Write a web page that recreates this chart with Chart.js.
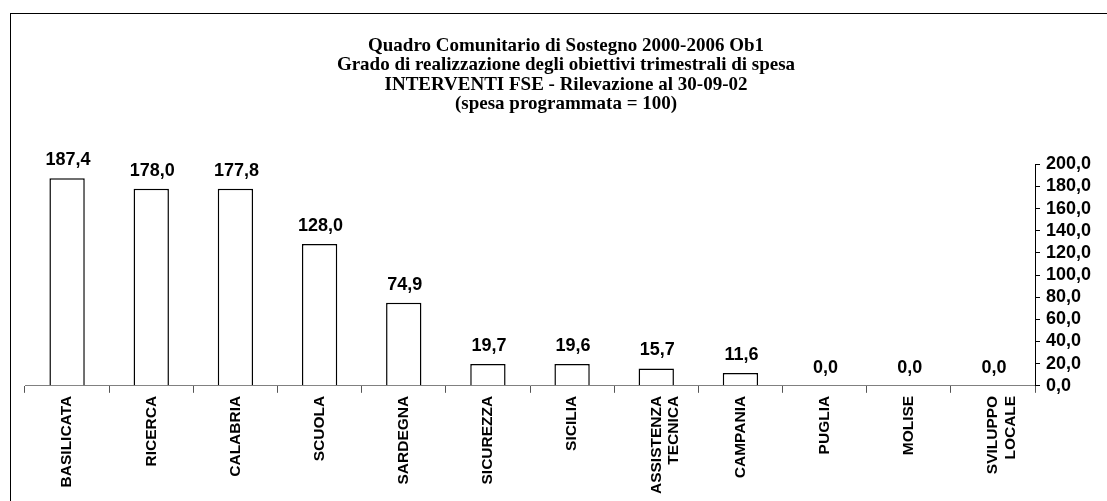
<!DOCTYPE html>
<html>
<head>
<meta charset="utf-8">
<script src="https://cdn.jsdelivr.net/npm/chart.js@4.4.1/dist/chart.umd.min.js"></script>
<style>
  html, body { margin: 0; padding: 0; background: #fff; }
  #wrap { position: relative; width: 1107px; height: 501px; overflow: hidden; }
  #frame { position: absolute; left: 10px; top: 13px; width: 1200px; height: 600px;
           border-left: 1px solid #000; border-top: 1px solid #000; }
  canvas { position: absolute; left: 0; top: 0; }
</style>
</head>
<body>
<div id="wrap">
  <div id="frame"></div>
  <canvas id="chart" width="1107" height="501"></canvas>
</div>
<script>
// categorie e valori (spesa programmata = 100)
const categories = ['BASILICATA', 'RICERCA', 'CALABRIA', 'SCUOLA', 'SARDEGNA', 'SICUREZZA',
  'SICILIA', ['ASSISTENZA', 'TECNICA'], 'CAMPANIA', 'PUGLIA', 'MOLISE', ['SVILUPPO', 'LOCALE']];
const values = [187.4, 178.0, 177.8, 128.0, 74.9, 19.7, 19.6, 15.7, 11.6, 0.0, 0.0, 0.0];
const yTicks = [0, 20, 40, 60, 80, 100, 120, 140, 160, 180, 200];
const titleLines = [
  'Quadro Comunitario di Sostegno 2000-2006 Ob1',
  'Grado di realizzazione degli obiettivi trimestrali di spesa',
  'INTERVENTI FSE - Rilevazione al 30-09-02',
  '(spesa programmata = 100)'
];

const fmt = v => Number(v).toFixed(1).replace('.', ',');

// etichette sopra le barre
const barLabels = {
  id: 'barLabels',
  afterDatasetsDraw(chart) {
    const ctx = chart.ctx;
    const meta = chart.getDatasetMeta(0);
    ctx.save();
    ctx.font = 'bold 18px "Liberation Sans", Arial, sans-serif';
    ctx.fillStyle = '#000';
    ctx.textAlign = 'center';
    ctx.textBaseline = 'alphabetic';
    meta.data.forEach((bar, i) => {
      ctx.fillText(fmt(values[i]), bar.x + 1, bar.y - 13);
    });
    ctx.restore();
  }
};

new Chart(document.getElementById('chart'), {
  type: 'bar',
  data: {
    labels: categories,
    datasets: [{
      data: values,
      backgroundColor: '#fff',
      borderColor: '#000',
      borderWidth: 1.5,
      categoryPercentage: 1,
      barPercentage: 0.42
    }]
  },
  options: {
    responsive: false,
    animation: false,
    layout: { padding: { left: 25, right: 0, top: 0, bottom: 4 } },
    plugins: {
      legend: { display: false },
      tooltip: { enabled: false },
      title: {
        display: true,
        text: titleLines,
        color: '#000',
        font: { family: '"Liberation Serif", "Times New Roman", serif', size: 19, weight: 'bold', lineHeight: 1.03 },
        padding: { top: 36, bottom: 50 }
      }
    },
    scales: {
      x: {
        border: { color: '#808080', width: 1 },
        grid: { drawOnChartArea: false, drawTicks: true, tickLength: 7, color: '#555', offset: true },
        ticks: {
          color: '#000',
          maxRotation: 90,
          minRotation: 90,
          autoSkip: false,
          padding: 3,
          font: { family: '"Liberation Sans", Arial, sans-serif', size: 15.5, weight: 'bold', lineHeight: 1.15 }
        }
      },
      y: {
        position: 'right',
        min: 0,
        max: 200,
        afterBuildTicks: axis => { axis.ticks = yTicks.map(v => ({ value: v })); },
        afterFit: axis => { axis.width = 72; },
        border: { color: '#000', width: 1 },
        grid: { drawOnChartArea: false, drawTicks: true, tickLength: 5, color: '#000' },
        ticks: {
          color: '#000',
          padding: 6,
          autoSkip: false,
          callback: v => fmt(v),
          font: { family: '"Liberation Sans", Arial, sans-serif', size: 18, weight: 'bold' }
        }
      }
    }
  },
  plugins: [barLabels]
});
</script>
</body>
</html>
